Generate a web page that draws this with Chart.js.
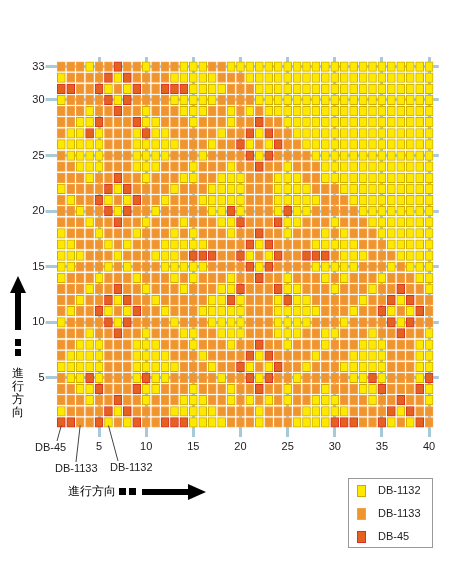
<!DOCTYPE html>
<html><head><meta charset="utf-8">
<script src="https://cdn.jsdelivr.net/npm/chart.js@4"></script>
<style>html,body{margin:0;padding:0;background:#fff;}#wrap{position:relative;width:450px;height:562px;}canvas{display:block;}</style>
</head><body><div id="wrap"><canvas id="c" width="450" height="562"></canvas></div>
<script>
// Bead numbers along the x axis (columns) and y axis (rows)
const columns = [1,2,3,4,5,6,7,8,9,10,11,12,13,14,15,16,17,18,19,20,21,22,23,24,25,26,27,28,29,30,31,32,33,34,35,36,37,38,39,40];
const rowNumbers = [33,32,31,30,29,28,27,26,25,24,23,22,21,20,19,18,17,16,15,14,13,12,11,10,9,8,7,6,5,4,3,2,1];
// Colour of each bead, one string per row (row 33 first): Y = DB-1132, O = DB-1133, R = DB-45
const beadRows = [
"OOOYOOROOYOOOYYYOOYYYYYYYYYYYYYYYYYYYYYY",
"YOOOORYROOOOYYYYYOOOYYYYYYYYYYYYYYYYYYYY",
"RROORYOYROORRRYYYYOOOYYYYYYYYYYYYYYYYYYY",
"YOOOORYROOOOYYYYYOOOOYYYYYYYYYYYYYYYYYYY",
"OOOYOOROOYOOOYYYOOYOYOYYYYYYYYYYYYYYYYYY",
"OOYYROOORYYOOOYOOOYOOROOYYYYYYYYYYYYYYYY",
"OYYRYOOOYRYYOOOOOYOORYROOYYYYYYYYYYYYYYY",
"YYYYYOOOYYYYYOOOYOORYOYROOYYYYYYYYYYYYYY",
"OYYYYOOOYYYYOOOYOOOORYROOOOYYYYYYYYYYYYY",
"OOYYYOOOYYYOOOYOOOYOOROOYOOOYYYYYYYYYYYY",
"OOOYOOROOYOOOYYOOYYYOOOYYYOOYYYYYYYYYYYY",
"YOOOORYROOOOYOOOYYYYOOOYYYYOOOYYYYYYYYYY",
"OYOORYOYROOYOOOYYYYYOOOYYYYYOOOYYYYYYYYY",
"OOYOORYROOYOOOOOYYRYOOOYRYYOOOOOYYYYYYYY",
"OOOYOOROOYOOOYOOOYYROOORYYOOOYOOOYYYYYYY",
"YOOOYOOOYOOOYOYOOOYOOROOYOOOYOYOOOYYYYYY",
"YYOOOYOYOOOYYYYYOOOORYROOOOYYYYYOOOYYYYY",
"YYYOOOYOOOYYYORRROORYOYROORRROYYYOOOYYYY",
"YYOOOYOYOOOYYYYYOOOORYROOOOYYYYYOOOYOYYY",
"YOOOYOOOYOOOYOYOOOYOOROOYOOOYOYOOOYOOOYY",
"OOOYOOROOYOOOYOOOYYROOORYYOOOYOOOYOOROOY",
"OOYOORYROOYOOOOOYYRYOOOYRYYOOOOOYOORYROO",
"OYOORYOYROOYOOOYYYYYOOOYYYYYOOOYOORYOYRO",
"YOOOORYROOOOYOOOYYYYOOOYYYYOOOYOOOORYROO",
"OOOYOOROOYOOOYYOOYYYOOOYYYOOYYOOOYOOROOY",
"OOYYYOOOYYYOOOYOOOYOOROOYOOOYOOOYYYOOOYY",
"OYYYYOOOYYYYOOOYOOOORYROOOOYOOOYYYYOOOYY",
"YYYYYOOOYYYYYOOOYOORYOYROOYOOOYYYYYOOOYY",
"OYYRYOOOYRYYOOOOOYOORYROOYOOOOOYYRYOOOYR",
"OOYYROOORYYOOOYOOOYOOROOYOOOYOOOYYROOORY",
"OOOYOOROOYOOOYYYOOYOYOYOYOOYYYOOOYOOROOY",
"YOOOORYROOOOYYYYYOOOOYOOOOYYYYYOOOORYROO",
"RROORYOYROORRRYYYYOOOYOOOYYYYRRROORYOYRO"
];
const seriesNames = ["DB-1132", "DB-1133", "DB-45"];
const seriesKeys = ["Y", "O", "R"];
const xTickValues = [5,10,15,20,25,30,35,40];
const yTickValues = [5,10,15,20,25,30,33];

const fills = ["#FFE800", "#F0942E", "#E4611E"];
const borders = ["#CDAE00", "#F4A24A", "#D9302A"];

const datasets = seriesNames.map((name, k) => {
  const pts = [];
  beadRows.forEach((rowStr, i) => {
    const r = rowNumbers[i];
    columns.forEach((c, j) => {
      if (rowStr[j] === seriesKeys[k]) pts.push({x: c, y: [r - 0.43, r + 0.43]});
    });
  });
  return {label: name, data: pts, backgroundColor: fills[k], borderColor: borders[k],
    borderWidth: 1, borderSkipped: false, barThickness: 8, grouped: false};
});

const GRID = "#A8CAD8";
const FONT = "'Liberation Sans', Arial, sans-serif";

const decor = {
  id: "decor",
  afterDraw(chart) {
    const ctx = chart.ctx;
    const xs = chart.scales.x, ys = chart.scales.y;
    ctx.save();
    ctx.fillStyle = "#222";
    ctx.strokeStyle = "#444";
    ctx.lineWidth = 1;
    ctx.font = "11px " + FONT;
    ctx.textBaseline = "middle";
    const notes = [
      {t: "DB-45", tx: 35, ty: 448, col: 1, lx: 57, ly: 441},
      {t: "DB-1133", tx: 55, ty: 469, col: 3, lx: 76, ly: 462},
      {t: "DB-1132", tx: 110, ty: 468, col: 6, lx: 118, ly: 461}
    ];
    notes.forEach(n => {
      ctx.textAlign = "left";
      ctx.fillText(n.t, n.tx, n.ty);
      ctx.beginPath();
      ctx.moveTo(n.lx, n.ly);
      ctx.lineTo(xs.getPixelForValue(n.col), ys.getPixelForValue(1) + 3);
      ctx.stroke();
    });
    ctx.fillStyle = "#000";
    ctx.font = "12px " + FONT;
    ctx.textAlign = "left";
    ctx.fillText("進行方向", 68, 492);
    ctx.fillRect(119, 488, 7, 7);
    ctx.fillRect(129, 488, 7, 7);
    ctx.fillRect(142, 489, 48, 6);
    ctx.beginPath();
    ctx.moveTo(188, 484); ctx.lineTo(206, 492); ctx.lineTo(188, 500); ctx.closePath(); ctx.fill();
    ctx.textAlign = "center";
    ["進", "行", "方", "向"].forEach((ch, i) => ctx.fillText(ch, 18, 374 + i * 13));
    ctx.fillRect(15, 349, 6, 7);
    ctx.fillRect(15, 339, 6, 7);
    ctx.fillRect(15, 292, 6, 38);
    ctx.beginPath();
    ctx.moveTo(10, 293); ctx.lineTo(18, 276); ctx.lineTo(26, 293); ctx.closePath(); ctx.fill();
    ctx.strokeStyle = "#999";
    ctx.strokeRect(348.5, 478.5, 84, 69);
    ctx.font = "11px " + FONT;
    ctx.textAlign = "left";
    chart.data.datasets.forEach((ds, i) => {
      const y = 491 + i * 23;
      ctx.fillStyle = ds.backgroundColor;
      ctx.strokeStyle = ds.borderColor;
      ctx.fillRect(357, y - 6, 9, 12);
      ctx.strokeRect(357.5, y - 5.5, 8, 11);
      ctx.fillStyle = "#222";
      ctx.fillText(ds.label, 378, y);
    });
    ctx.restore();
  }
};

new Chart(document.getElementById("c"), {
  type: "bar",
  data: {datasets},
  options: {
    responsive: false,
    animation: false,
    layout: {padding: 0},
    plugins: {legend: {display: false}, tooltip: {enabled: false}},
    scales: {
      x: {
        type: "linear", position: "bottom", min: 0.5, max: 40.5, offset: false,
        afterBuildTicks: s => { s.ticks = xTickValues.map(v => ({value: v})); },
        afterFit: s => { s.height = 562 - 428; },
        grid: {offset: false, color: GRID, lineWidth: 3, tickLength: 9, drawOnChartArea: true},
        border: {display: false},
        ticks: {color: "#222", font: {family: FONT, size: 11}, padding: 3, autoSkip: false, maxRotation: 0}
      },
      xTop: {
        type: "linear", position: "top", min: 0.5, max: 40.5, offset: false,
        afterBuildTicks: s => { s.ticks = xTickValues.map(v => ({value: v})); },
        afterFit: s => { s.height = 61; },
        grid: {offset: false, color: GRID, lineWidth: 3, tickLength: 4, drawOnChartArea: false},
        border: {display: false},
        ticks: {display: false}
      },
      y: {
        type: "linear", position: "left", min: 0.5, max: 33.5,
        afterBuildTicks: s => { s.ticks = yTickValues.map(v => ({value: v})); },
        afterFit: s => { s.width = 56.6; },
        grid: {color: GRID, lineWidth: 3, tickLength: 11, drawOnChartArea: true},
        border: {display: false},
        ticks: {color: "#222", font: {family: FONT, size: 11}, padding: 1, autoSkip: false}
      },
      yRight: {
        type: "linear", position: "right", min: 0.5, max: 33.5,
        afterBuildTicks: s => { s.ticks = yTickValues.map(v => ({value: v})); },
        afterFit: s => { s.width = 16.2; },
        grid: {color: GRID, lineWidth: 3, tickLength: 5, drawOnChartArea: false},
        border: {display: false},
        ticks: {display: false}
      }
    }
  },
  plugins: [decor]
});
</script></body></html>
